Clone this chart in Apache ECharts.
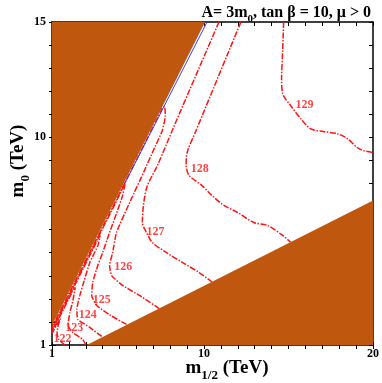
<!DOCTYPE html>
<html lang="en">
  <head>
    <meta charset="UTF-8" />
    <title>m0 vs m1/2 Higgs mass contours</title>
    <script src="https://cdn.jsdelivr.net/npm/echarts@6/dist/echarts.min.js"></script>
    <style>
      html, body { margin: 0; padding: 0; background: #fff; }
    </style>
  </head>
  <body>
    <div id="main" style="width: 382px; height: 383px"></div>
    <script type="text/javascript">
      // tick labels
      var xLabels = [1, 10, 20];
      var yLabels = [1, 10, 15];

      // excluded regions (brown), edges in (m1/2, m0) TeV
      var upperEdge = [[1, 1.85], [10.06, 15]];
      var lowerEdge = [[3.06, 1], [20, 7.26]];
      var blueEdge = [[5.29, 7.98], [10.18, 15]];

      // Higgs mass contours
      var c129 = [[14.71, 15], [14.65, 13.72], [14.59, 12.55], [14.65, 11.9], [15.12, 11.38], [15.71, 10.82],
        [16.29, 10.38], [17.06, 10.25], [17.88, 10.16], [18.47, 9.95], [19.06, 9.56], [19.41, 9.43], [20, 9.34]];
      var c128 = [[12.18, 15], [9.53, 10.3], [9.0, 9.34], [8.94, 8.78], [9.12, 8.35], [9.88, 7.91], [10.47, 7.48],
        [11.18, 7.05], [12.0, 6.74], [12.94, 6.31], [13.76, 6.18], [14.65, 5.75], [15.12, 5.46]];
      var c127 = [[10.88, 15], [8.24, 10.51], [7.24, 8.78], [6.59, 7.78], [6.35, 6.31], [6.59, 5.88], [6.94, 5.44],
        [7.76, 5.01], [8.71, 4.58], [9.71, 4.14], [10.47, 3.73]];
      var c126 = [[7.35, 2.58], [6.18, 3.15], [5.18, 3.58], [4.53, 4.01], [4.41, 4.45], [4.59, 5.01], [4.82, 5.88],
        [5.65, 7.26], [6.47, 8.56], [7.0, 9.43], [7.53, 10.3], [7.71, 10.95], [7.66, 11.35], [7.5, 11.25],
        [7.42, 11.1], [6.67, 10], [5.98, 9], [5.29, 8], [4.6, 7], [3.91, 6], [3.22, 5], [2.53, 4], [1.84, 3],
        [1.29, 2.2], [1, 1.78]];
      var c125 = [[5.41, 1.89], [4.41, 2.31], [3.65, 2.71], [3.35, 3.15], [3.41, 3.71], [3.71, 4.45], [4.0, 5.01],
        [4.41, 5.88], [4.88, 6.83], [5.18, 7.48], [5.3, 7.9], [5.32, 8.05], [5.24, 7.9], [4.99, 7.5], [4.65, 7],
        [3.96, 6], [3.27, 5], [2.58, 4], [1.89, 3], [1.34, 2.2], [1, 1.7]];
      var c124 = [[3.94, 1.37], [3.24, 1.76], [2.53, 2.11], [2.47, 2.54], [2.65, 3.15], [2.82, 3.58], [3.24, 4.58],
        [3.72, 5.31], [3.85, 5.75], [3.77, 5.65], [3.66, 5.5], [3.32, 5], [2.63, 4], [1.94, 3], [1.39, 2.2], [1, 1.63]];
      var c123 = [[3.0, 1.0], [2.82, 1.24], [2.24, 1.54], [1.94, 1.85], [2.06, 2.41], [2.24, 2.93], [2.38, 3.5],
        [2.2, 3.3], [1.99, 3], [1.65, 2.5], [1.3, 2], [1, 1.56]];
      var c122 = [[1.76, 1.0], [1.4, 1.25], [1.3, 1.5], [1.35, 1.8], [1.5, 2.15], [1.42, 2.05], [1.25, 1.85], [1, 1.49]];

      // contour labels
      var labelText = ["129", "128", "127", "126", "125", "124", "123", "122"];
      var labelX = [15.94, 9.74, 7.12, 5.21, 3.94, 3.12, 2.32, 1.62];
      var labelY = [11.42, 8.63, 5.92, 4.4, 2.95, 2.3, 1.74, 1.26];

      var chartDom = document.getElementById("main");
      var myChart = echarts.init(chartDom);
      var option;

      var SERIF = "Liberation Serif, Times New Roman, serif";
      var BROWN = "#bf580e";
      var RED = "#ff1414";

      // axis with ticks only (inside or outside), no labels
      function axisBase(pos, max, inside, len, showLine) {
        return {
          type: "value",
          position: pos,
          min: 1,
          max: max,
          interval: 1,
          splitLine: { show: false },
          axisLine: { show: showLine, onZero: false, lineStyle: { color: "#000", width: 1.5 } },
          axisTick: { show: true, inside: inside, length: len, lineStyle: { color: "#000", width: 1 } },
          axisLabel: { show: false },
        };
      }

      var xb = axisBase("bottom", 20, false, 4, true);
      xb.axisLabel = {
        show: true, margin: 3, color: "#000", fontFamily: SERIF, fontWeight: "bold", fontSize: 12,
        formatter: function (v) { return xLabels.indexOf(v) >= 0 ? String(v) : ""; },
      };
      var xbIn = axisBase("bottom", 20, true, 3, false);
      var xt = axisBase("top", 20, true, 4, true);

      var yl = axisBase("left", 15, false, 3, true);
      yl.axisLabel = {
        show: true, margin: 6, color: "#000", fontFamily: SERIF, fontWeight: "bold", fontSize: 12,
        formatter: function (v) { return yLabels.indexOf(v) >= 0 ? String(v) : ""; },
      };
      var ylIn = axisBase("left", 15, true, 4, false);
      var yr = axisBase("right", 15, true, 4, true);

      function contour(name, data, smooth) {
        return {
          type: "line",
          name: name,
          data: data,
          xAxisIndex: 0,
          yAxisIndex: 0,
          showSymbol: false,
          symbol: "none",
          smooth: smooth,
          z: 2,
          lineStyle: { color: RED, width: 1.5, type: [6, 1.5, 1.5, 1.5] },
        };
      }

      var labelData = labelText.map(function (t, i) {
        return [labelX[i], labelY[i], t];
      });

      option = {
        animation: false,
        backgroundColor: "#fff",
        title: {
          text: "A= 3m{s|0}, tan β = 10, μ > 0",
          right: 6,
          top: 0,
          textStyle: {
            fontFamily: SERIF, fontWeight: "bold", fontSize: 16, color: "#000",
            rich: {
              s: { fontFamily: SERIF, fontWeight: "bold", fontSize: 11, verticalAlign: "bottom", padding: [0, 0, -4, 0] },
            },
          },
        },
        grid: { left: 52, right: 7, top: 22, bottom: 38 },
        xAxis: [xb, xt, xbIn],
        yAxis: [yl, yr, ylIn],
        graphic: [
          {
            type: "text",
            x: 227,
            y: 368,
            style: {
              text: "m{s|1/2} (TeV)",
              fontFamily: SERIF, fontWeight: "bold", fontSize: 19, fill: "#000",
              align: "center", verticalAlign: "middle",
              rich: { s: { fontFamily: SERIF, fontWeight: "bold", fontSize: 13, verticalAlign: "bottom", padding: [0, 0, -5, 0] } },
            },
          },
          {
            type: "text",
            x: 18,
            y: 161,
            rotation: Math.PI / 2,
            style: {
              text: "m{s|0} (TeV)",
              fontFamily: SERIF, fontWeight: "bold", fontSize: 19, fill: "#000",
              align: "center", verticalAlign: "middle",
              rich: { s: { fontFamily: SERIF, fontWeight: "bold", fontSize: 13, verticalAlign: "bottom", padding: [0, 0, -5, 0] } },
            },
          },
        ],
        series: [
          contour("129", c129, 0.3),
          contour("128", c128, 0.3),
          contour("127", c127, 0.3),
          contour("126", c126, 0.15),
          contour("125", c125, 0.15),
          contour("124", c124, 0.15),
          contour("123", c123, 0.15),
          contour("122", c122, 0.15),
          {
            type: "line",
            data: upperEdge,
            symbol: "none",
            z: 3,
            lineStyle: { width: 0, opacity: 0 },
            areaStyle: { color: BROWN, opacity: 1, origin: "end" },
          },
          {
            type: "line",
            data: lowerEdge,
            symbol: "none",
            z: 3,
            lineStyle: { width: 0, opacity: 0 },
            areaStyle: { color: BROWN, opacity: 1, origin: "start" },
          },
          {
            type: "line",
            data: blueEdge,
            symbol: "none",
            z: 4,
            lineStyle: { color: "#3b3bff", width: 1 },
          },
          {
            type: "scatter",
            data: labelData,
            symbolSize: 0,
            z: 5,
            label: {
              show: true,
              position: "inside",
              color: RED,
              fontFamily: SERIF,
              fontWeight: "bold",
              fontSize: 12,
              formatter: function (p) { return p.data[2]; },
            },
          },
        ],
      };

      option && myChart.setOption(option);
    </script>
  </body>
</html>
